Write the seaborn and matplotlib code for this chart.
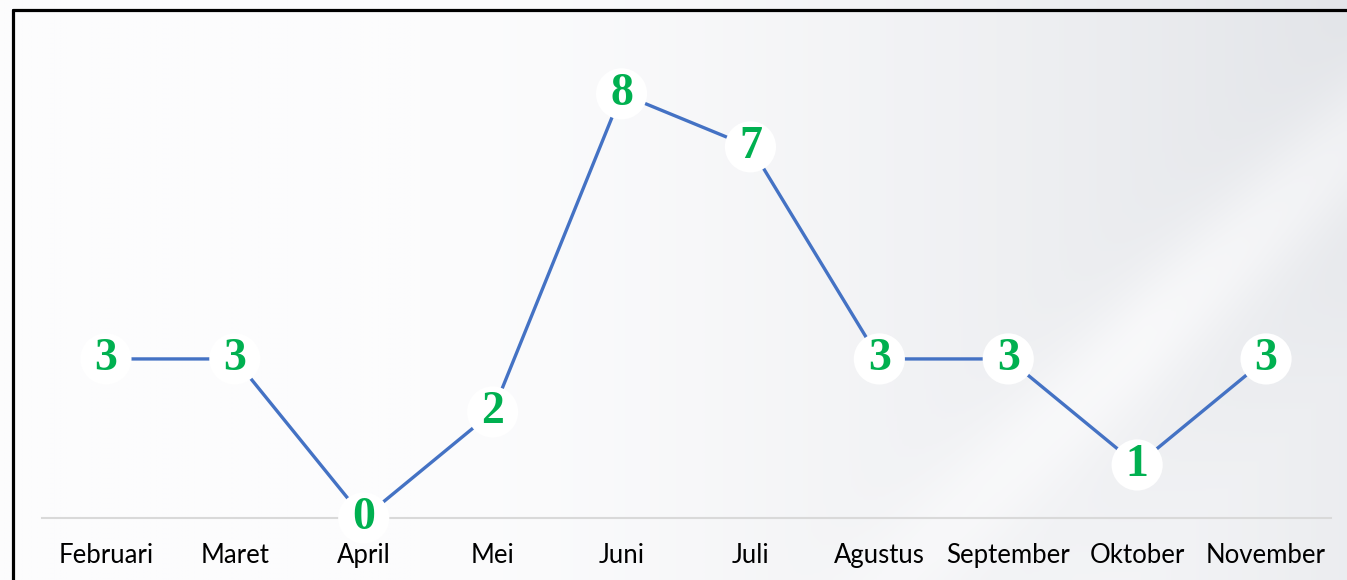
import numpy as np
import pandas as pd
import matplotlib
matplotlib.use("Agg")
import matplotlib.pyplot as plt
import seaborn as sns
from matplotlib.lines import Line2D
from matplotlib.colors import LinearSegmentedColormap

# data
months = ["Februari", "Maret", "April", "Mei", "Juni", "Juli",
          "Agustus", "September", "Oktober", "November"]
counts = [3, 3, 0, 2, 8, 7, 3, 3, 1, 3]

df = pd.DataFrame({"bulan": months, "jumlah": counts})
df["pos"] = range(len(df))

sns.set_style("white")
plt.rcParams["font.family"] = ["Lato", "DejaVu Sans"]

fig = plt.figure(figsize=(13.47, 5.80), dpi=100)

# soft grey gradient background with a light diagonal swoosh
bg = fig.add_axes([0, 0, 1, 1], zorder=-10)
gx = np.linspace(0, 1, 540)
gy = np.linspace(0, 1, 232)
X, Y = np.meshgrid(gx, gy)
shade = np.clip((X - 0.3) / 0.7, 0, 1) ** 1.4
# diagonal band from lower-middle to upper-right
d = (Y - (X - 0.66) * 2.2)
band = np.exp(-((d) / 0.12) ** 2) * np.clip((X - 0.55) / 0.3, 0, 1)
below = np.clip(-d / 0.4, 0, 1) * np.clip((X - 0.6) / 0.2, 0, 1)
shade = shade - 0.55 * band - 0.35 * below
shade = np.clip(shade, 0, 1)
cmap = LinearSegmentedColormap.from_list("bg", ["#fcfcfd", "#e3e5e9"])
bg.imshow(shade, cmap=cmap, vmin=0, vmax=1, extent=[0, 1, 0, 1],
          aspect="auto", origin="lower", interpolation="bilinear")
bg.set_xlim(0, 1)
bg.set_ylim(0, 1)
bg.axis("off")

# black frame (top and left edges visible)
fx = 13 / 1347
fy = 1 - 10 / 580
fig.lines.append(Line2D([fx, 1.0], [fy, fy], transform=fig.transFigure,
                        color="black", lw=2.3, zorder=5))
fig.lines.append(Line2D([fx, fx], [0.0, fy], transform=fig.transFigure,
                        color="black", lw=2.3, zorder=5))

ax = fig.add_axes([41.5 / 1347, 62 / 580, 1289 / 1347, 509 / 580])
ax.patch.set_alpha(0)
sns.lineplot(data=df, x="pos", y="jumlah", ax=ax, color="#4472c4",
             linewidth=2.4, sort=False)

for x, y in zip(df["pos"], df["jumlah"]):
    ax.text(x, y, str(y), ha="center", va="center", fontsize=33,
            fontweight="bold", color="#00b050", family="Liberation Serif",
            bbox=dict(boxstyle="circle,pad=0.1", fc="white", ec="none"),
            zorder=4)

ax.set_xlim(-0.5, len(months) - 0.5)
ax.set_ylim(0, 9.6)
ax.set_xticks(df["pos"])
ax.set_xticklabels(months, fontsize=18.5, color="black")
ax.set_yticks([])
ax.set_xlabel("")
ax.set_ylabel("")
ax.tick_params(axis="x", length=0, pad=18)
for side in ["top", "right", "left"]:
    ax.spines[side].set_visible(False)
ax.spines["bottom"].set_color("#d9d9d9")
ax.spines["bottom"].set_linewidth(1.5)

fig.savefig("out.png", dpi=100)
